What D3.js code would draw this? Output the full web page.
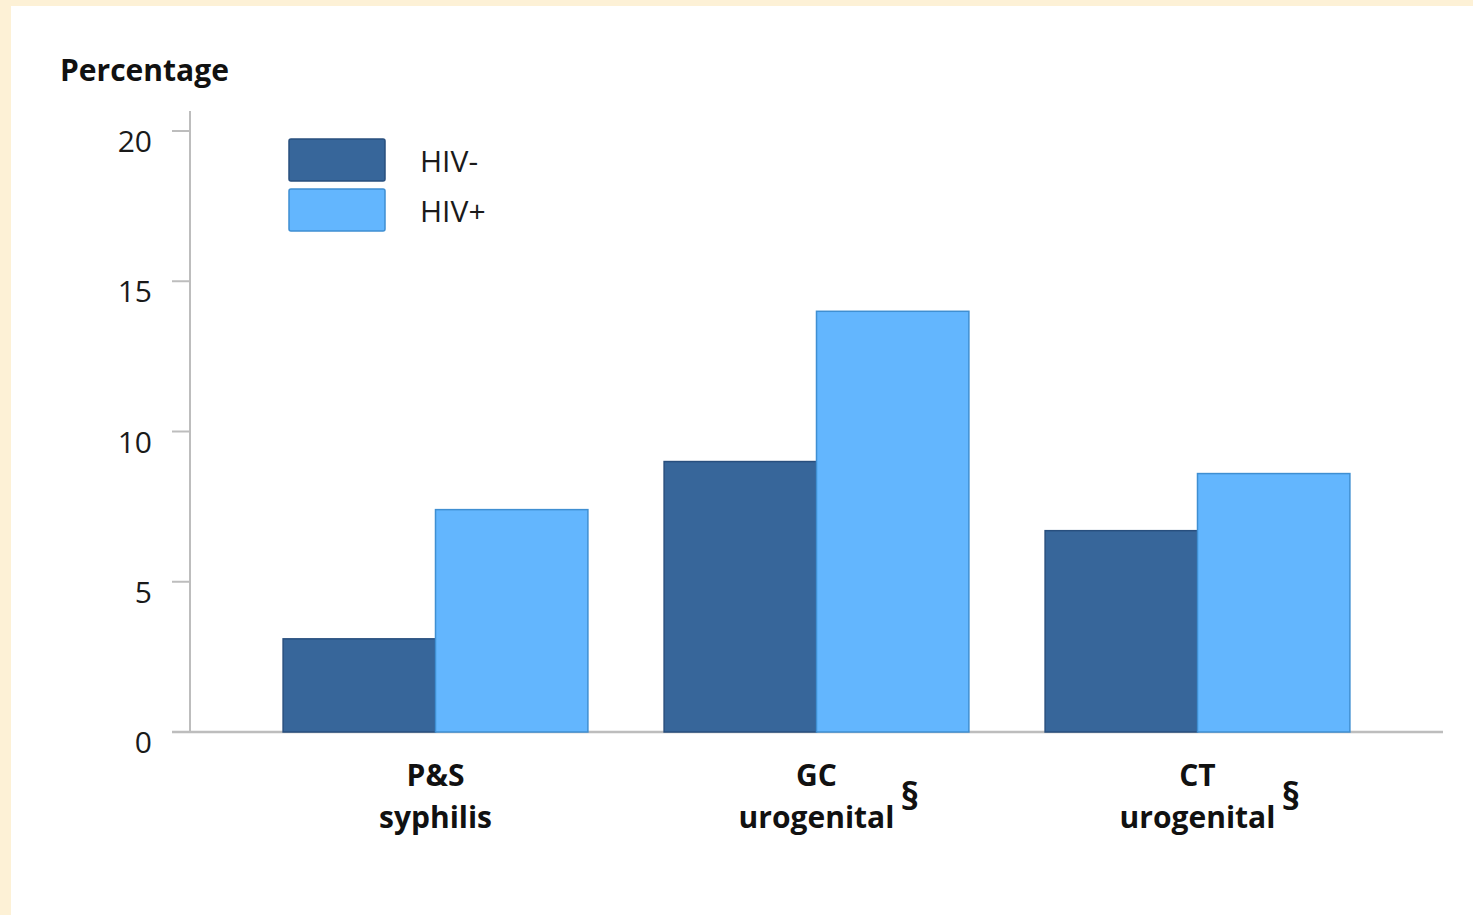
<!DOCTYPE html>
<html>
<head>
<meta charset="utf-8">
<script src="https://cdn.jsdelivr.net/npm/d3@7"></script>
<style>
  html, body { margin: 0; padding: 0; background: #fdf1d6; }
  #panel { position: absolute; left: 11px; top: 6px; width: 1462px; height: 909px; background: #fff; }
  svg { display: block; font-family: "Open Sans", "Noto Sans", sans-serif; }
</style>
</head>
<body>
<div id="panel"><svg id="chart"></svg></div>
<script>
var categories = ["P&S|syphilis", "GC|urogenital", "CT|urogenital"];
var footnote = ["", "§", "§"];
var series = ["HIV-", "HIV+"];
var hivNeg = [3.1, 9.0, 6.7];
var hivPos = [7.4, 14.0, 8.6];
var yTicks = [0, 5, 10, 15, 20];

var w = 1462, h = 909;
var ox = 11, oy = 6; // panel offset

var colors = { "HIV-": "#37669a", "HIV+": "#63b6fe" };
var strokes = { "HIV-": "#284f7e", "HIV+": "#3f8fd2" };

var svg = d3.select("#chart").attr("width", w).attr("height", h);
var g = svg.append("g").attr("transform", "translate(" + (-ox) + "," + (-oy) + ")");

var x0 = d3.scaleBand()
    .domain(categories)
    .range([245, 1388])
    .paddingInner(0.2)
    .paddingOuter(0.1);

var x1 = d3.scaleBand()
    .domain(series)
    .range([0, x0.bandwidth()]);

var y = d3.scaleLinear().domain([0, 20]).range([732, 131]);

// axes lines
g.append("line")
    .attr("x1", 190).attr("x2", 190)
    .attr("y1", y(20) - 20).attr("y2", y(0))
    .style("stroke", "#bdbdbd").style("stroke-width", 2);
g.append("line")
    .attr("x1", 172).attr("x2", 1443)
    .attr("y1", y(0)).attr("y2", y(0))
    .style("stroke", "#bdbdbd").style("stroke-width", 2.5);

// y ticks
var ticks = g.selectAll(".tick")
    .data(yTicks)
    .enter()
    .append("g")
    .attr("transform", function (d) { return "translate(0," + y(d) + ")"; });
ticks.append("line")
    .attr("x1", 172).attr("x2", 190)
    .style("stroke", "#bdbdbd").style("stroke-width", 2);
ticks.append("text")
    .attr("x", 152).attr("y", 21)
    .attr("text-anchor", "end")
    .style("font-size", "30px")
    .style("fill", "#1a1a1a")
    .text(function (d) { return d; });

// y title
g.append("text")
    .attr("x", 60).attr("y", 81)
    .style("font-size", "30px")
    .style("font-weight", "bold")
    .style("fill", "#111")
    .text("Percentage");

// bars
var rows = categories.map(function (c, i) {
    return { cat: c, vals: [{ s: "HIV-", v: hivNeg[i] }, { s: "HIV+", v: hivPos[i] }] };
});

var groups = g.selectAll(".grp")
    .data(rows)
    .enter()
    .append("g")
    .attr("transform", function (d) { return "translate(" + x0(d.cat) + ",0)"; });

groups.selectAll("rect")
    .data(function (d) { return d.vals; })
    .enter()
    .append("rect")
    .attr("x", function (d) { return x1(d.s); })
    .attr("width", x1.bandwidth())
    .attr("y", function (d) { return y(d.v); })
    .attr("height", function (d) { return y(0) - y(d.v); })
    .style("fill", function (d) { return colors[d.s]; })
    .style("stroke", function (d) { return strokes[d.s]; })
    .style("stroke-width", 1.5);

// x labels
categories.forEach(function (c, i) {
    var parts = c.split("|");
    var cx = x0(c) + x0.bandwidth() / 2;
    var t = g.append("text")
        .attr("text-anchor", "middle")
        .style("font-size", "30px")
        .style("font-weight", "bold")
        .style("fill", "#111");
    t.append("tspan").attr("x", cx).attr("y", 786).text(parts[0]);
    t.append("tspan").attr("x", cx).attr("y", 828).text(parts[1]);
    if (footnote[i]) {
        g.append("text")
            .attr("x", cx + 84).attr("y", 810)
            .style("font-size", "38px")
            .style("font-weight", "bold")
            .style("fill", "#111")
            .text(footnote[i]);
    }
});

// legend
var legend = g.selectAll(".leg")
    .data(series)
    .enter()
    .append("g")
    .attr("transform", function (d, i) { return "translate(289," + (139 + i * 50) + ")"; });
legend.append("rect")
    .attr("width", 96).attr("height", 42)
    .attr("rx", 2)
    .style("fill", function (d) { return colors[d]; })
    .style("stroke", function (d) { return strokes[d]; })
    .style("stroke-width", 1.5);
legend.append("text")
    .attr("x", 131).attr("y", 33)
    .style("font-size", "30px")
    .style("fill", "#1a1a1a")
    .text(function (d) { return d; });
</script>
</body>
</html>
